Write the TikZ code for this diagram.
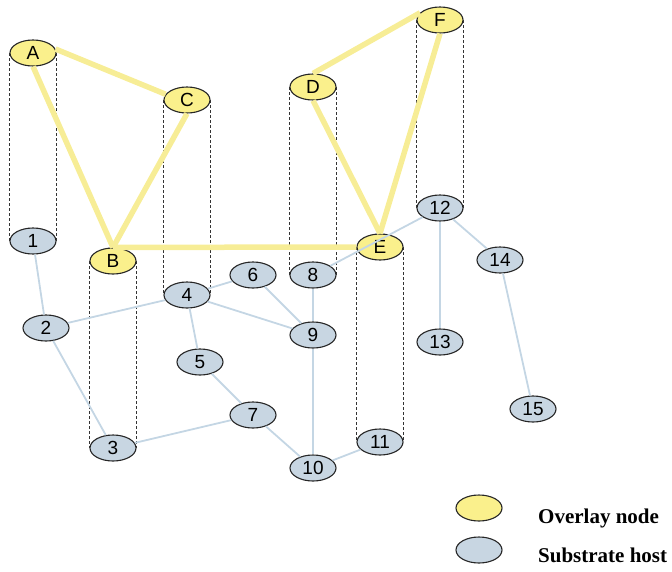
\documentclass[tikz,border=0pt]{standalone}
\usepackage{fontspec}
\setmainfont{Liberation Serif}
\setsansfont{Liberation Sans}
\usetikzlibrary{shapes.geometric}

\definecolor{ovfill}{RGB}{250,240,140}
\definecolor{ovlink}{RGB}{247,237,150}
\definecolor{subfill}{RGB}{200,214,226}
\definecolor{sublink}{RGB}{196,214,228}

\tikzset{
  host/.style={ellipse,draw=black!85,line width=1.1pt,fill=subfill,
    minimum width=46pt,minimum height=26pt,inner sep=0pt,
    font=\sffamily\fontsize{19}{19}\selectfont},
  overlay/.style={host,fill=ovfill},
  olink/.style={ovlink,line width=5.5pt},
  slink/.style={sublink,line width=1.8pt},
  proj/.style={dashed,dash pattern=on 3pt off 2pt,line width=0.8pt,black!80},
  legtext/.style={anchor=base west,inner sep=0pt,font=\bfseries\fontsize{21}{22}\selectfont},
}

\begin{document}
\begin{tikzpicture}[x=1pt,y=-1pt]
  \useasboundingbox (0,0) rectangle (672,571);

  % substrate hosts
  \foreach \n/\x/\y in {1/33/241,2/46/328,3/113/448,4/187/295,5/200/362,
                        6/253/275,7/253/415,8/313/275,9/313/335,10/313/468,
                        11/380/442,12/440/208,13/440/342,14/500/260,15/533/409}
    \node[host] (s\n) at (\x,\y) {\n};

  % overlay nodes
  \foreach \n/\x/\y in {A/33/53,B/113/261,C/187/100,D/313/87,E/380/247,F/440/20}
    \node[overlay] (\n) at (\x,\y) {\n};

  % projection of each overlay node onto its host
  \foreach \o/\s in {A/1,B/3,C/4,D/8,E/11,F/12}{
    \draw[proj] (\o.west) -- (s\s.west);
    \draw[proj] (\o.east) -- (s\s.east);
  }

  % overlay links
  \draw[olink] (A.10) -- (C.165);
  \draw[olink] (A.south) -- (B.north);
  \draw[olink] (C.south) -- (B.north);
  \draw[olink] (B.north) -- (E.west);
  \draw[olink] (D.north) -- (F.160);
  \draw[olink] (D.south) -- (E.north);
  \draw[olink] (F.south) -- (E.north);

  % substrate links
  \foreach \a/\b in {1/2,2/4,2/3,4/6,4/5,4/9,6/9,5/7,3/7,7/10,8/9,9/10,
                     10/11,8/12,12/13,12/14,14/15}
    \draw[slink] (s\a) -- (s\b);

  % legend
  \node[overlay] (legov) at (479,508) {};
  \node[host] (legsub) at (479,550) {};
  \node[legtext] (legovtxt) at (538,523) {Overlay node};
  \node[legtext] (legsubtxt) at (538,562) {Substrate host};
\end{tikzpicture}
\end{document}
